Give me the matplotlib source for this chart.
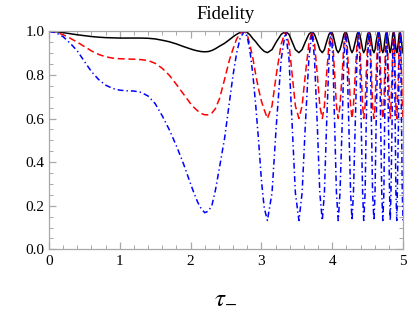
import numpy as np
import matplotlib
matplotlib.use("Agg")
import matplotlib.pyplot as plt
from matplotlib.ticker import MultipleLocator

# values (extrema and points in between)
tau = [0.0, 0.1, 0.2, 0.3, 0.4, 0.5, 0.6, 0.7, 0.8, 0.9, 1.0,
       1.1, 1.2, 1.3, 1.4, 1.5, 1.6, 1.7, 1.8, 1.9, 2.0,
       2.05, 2.1, 2.15, 2.2,
       2.25, 2.30, 2.35, 2.41, 2.48, 2.55, 2.60, 2.65, 2.70, 2.757,
       2.80, 2.84, 2.88, 2.92, 2.96, 3.00, 3.04, 3.085,
       3.15, 3.21, 3.28, 3.34,
       3.39, 3.435, 3.48, 3.53,
       3.575, 3.62, 3.67, 3.715,
       3.75, 3.79, 3.825, 3.86,
       3.89, 3.92, 3.955, 3.985,
       4.01, 4.035, 4.06, 4.085,
       4.11, 4.14, 4.165, 4.19,
       4.21, 4.235, 4.26, 4.28,
       4.30, 4.325, 4.35, 4.37,
       4.39, 4.41, 4.43, 4.445,
       4.465, 4.48, 4.50, 4.52,
       4.54, 4.555, 4.57, 4.59,
       4.605, 4.62, 4.64, 4.655,
       4.67, 4.685, 4.70, 4.715,
       4.73, 4.74, 4.755, 4.77,
       4.78, 4.795, 4.81, 4.82,
       4.83, 4.845, 4.855, 4.868,
       4.88, 4.89, 4.90, 4.912,
       4.92, 4.935, 4.945, 4.957,
       4.968, 4.98, 4.99, 5.0]

fid_black = [1.0, 0.998, 0.994, 0.989, 0.984, 0.980, 0.976, 0.973, 0.971, 0.970, 0.969,
             0.969, 0.969, 0.969, 0.968, 0.965, 0.959, 0.952, 0.942, 0.930, 0.919,
             0.914, 0.910, 0.907, 0.906,
             0.907, 0.912, 0.920, 0.932, 0.945, 0.962, 0.975, 0.986, 0.995, 1.0,
             0.995, 0.983, 0.966, 0.952, 0.935, 0.920, 0.908, 0.902,
             0.916, 0.951, 0.986, 1.0,
             0.986, 0.951, 0.916, 0.902,
             0.916, 0.951, 0.986, 1.0,
             0.986, 0.951, 0.916, 0.902,
             0.916, 0.951, 0.986, 1.0,
             0.986, 0.951, 0.916, 0.902,
             0.916, 0.951, 0.986, 1.0,
             0.986, 0.951, 0.916, 0.902,
             0.916, 0.951, 0.986, 1.0,
             0.986, 0.951, 0.916, 0.902,
             0.916, 0.951, 0.986, 1.0,
             0.986, 0.951, 0.916, 0.902,
             0.916, 0.951, 0.986, 1.0,
             0.986, 0.951, 0.916, 0.902,
             0.916, 0.951, 0.986, 1.0,
             0.986, 0.951, 0.916, 0.902,
             0.916, 0.951, 0.986, 1.0,
             0.986, 0.951, 0.916, 0.902,
             0.916, 0.951, 0.986, 1.0,
             0.986, 0.951, 0.916, 0.902]

fid_red = [1.0, 0.996, 0.984, 0.968, 0.950, 0.930, 0.910, 0.894, 0.883, 0.877, 0.874,
           0.873, 0.872, 0.870, 0.866, 0.853, 0.830, 0.798, 0.756, 0.712, 0.668,
           0.650, 0.635, 0.623, 0.617,
           0.617, 0.625, 0.645, 0.693, 0.780, 0.870, 0.920, 0.965, 0.990, 1.0,
           0.985, 0.935, 0.876, 0.800, 0.735, 0.680, 0.640, 0.600,
           0.658, 0.800, 0.942, 1.0,
           0.942, 0.800, 0.658, 0.600,
           0.658, 0.800, 0.942, 1.0,
           0.942, 0.800, 0.658, 0.600,
           0.658, 0.800, 0.942, 1.0,
           0.942, 0.800, 0.658, 0.600,
           0.658, 0.800, 0.942, 1.0,
           0.942, 0.800, 0.658, 0.600,
           0.658, 0.800, 0.942, 1.0,
           0.942, 0.800, 0.658, 0.600,
           0.658, 0.800, 0.942, 1.0,
           0.942, 0.800, 0.658, 0.600,
           0.658, 0.800, 0.942, 1.0,
           0.942, 0.800, 0.658, 0.600,
           0.658, 0.800, 0.942, 1.0,
           0.942, 0.800, 0.658, 0.600,
           0.658, 0.800, 0.942, 1.0,
           0.942, 0.800, 0.658, 0.600,
           0.658, 0.800, 0.942, 1.0,
           0.942, 0.800, 0.658, 0.600]

fid_blue = [1.0, 0.993, 0.975, 0.945, 0.910, 0.862, 0.815, 0.779, 0.753, 0.738, 0.730,
            0.727, 0.726, 0.720, 0.703, 0.668, 0.612, 0.548, 0.474, 0.392, 0.300,
            0.256, 0.216, 0.186, 0.168,
            0.175, 0.200, 0.270, 0.379, 0.509, 0.680, 0.800, 0.900, 0.968, 1.0,
            0.975, 0.906, 0.800, 0.660, 0.500, 0.318, 0.190, 0.132,
            0.259, 0.566, 0.873, 1.0,
            0.873, 0.566, 0.259, 0.132,
            0.259, 0.566, 0.873, 1.0,
            0.873, 0.566, 0.259, 0.132,
            0.259, 0.566, 0.873, 1.0,
            0.873, 0.566, 0.259, 0.132,
            0.259, 0.566, 0.873, 1.0,
            0.873, 0.566, 0.259, 0.132,
            0.259, 0.566, 0.873, 1.0,
            0.873, 0.566, 0.259, 0.132,
            0.259, 0.566, 0.873, 1.0,
            0.873, 0.566, 0.259, 0.132,
            0.259, 0.566, 0.873, 1.0,
            0.873, 0.566, 0.259, 0.132,
            0.259, 0.566, 0.873, 1.0,
            0.873, 0.566, 0.259, 0.132,
            0.259, 0.566, 0.873, 1.0,
            0.873, 0.566, 0.259, 0.132,
            0.259, 0.566, 0.873, 1.0,
            0.873, 0.566, 0.259, 0.132]

plt.rcParams['font.family'] = ['Liberation Serif', 'DejaVu Serif']
plt.rcParams['mathtext.fontset'] = 'stix'

fig = plt.figure(figsize=(4.09, 3.10), dpi=100)
ax = fig.add_axes([49 / 409, 1 - 249.3 / 310, 354 / 409, 218 / 310])

lw = 1.1
ax.plot(tau, fid_black, color='black', lw=lw)
ax.plot(tau, fid_red, color='red', lw=lw, linestyle=(0, (4.6, 2.4)))
ax.plot(tau, fid_blue, color='blue', lw=lw, linestyle=(0, (3.8, 2.0, 0.9, 2.0)))

ax.set_xlim(0, 5)
ax.set_ylim(0, 1.0)

frame_col = '#a8a8a8'
for sp in ax.spines.values():
    sp.set_color(frame_col)
    sp.set_linewidth(0.9)

ax.xaxis.set_major_locator(MultipleLocator(1))
ax.xaxis.set_minor_locator(MultipleLocator(0.2))
ax.yaxis.set_major_locator(MultipleLocator(0.2))
ax.yaxis.set_minor_locator(MultipleLocator(0.05))
ax.set_yticks([0.0, 0.2, 0.4, 0.6, 0.8, 1.0])
ax.set_yticklabels(['0.0', '0.2', '0.4', '0.6', '0.8', '1.0'])
ax.set_xticks([0, 1, 2, 3, 4, 5])
ax.set_xticklabels(['0', '1', '2', '3', '4', '5'])

ax.tick_params(which='both', direction='in', top=True, right=True,
               color=frame_col, labelsize=11, labelcolor='black')
ax.tick_params(which='major', length=5, width=0.9)
ax.tick_params(which='minor', length=2.6, width=0.7)
ax.tick_params(axis='y', pad=3)
ax.tick_params(axis='x', pad=4)

ax.set_title('Fidelity', fontsize=13.5, pad=9)
ax.set_xlabel(r'$\tau_{-}$', fontsize=18)
ax.xaxis.set_label_coords(0.5, -0.17)

fig.savefig('out.png', dpi=100)
